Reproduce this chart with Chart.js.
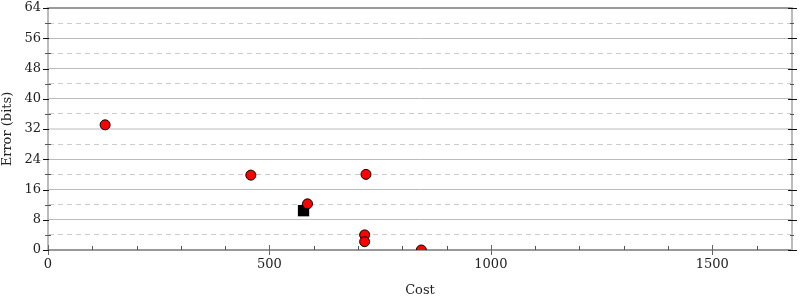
<!DOCTYPE html>
<html>
<head>
<meta charset="utf-8">
<script src="https://cdn.jsdelivr.net/npm/chart.js@4/dist/chart.umd.min.js"></script>
<style>
html,body{margin:0;padding:0;background:#fff;}
#wrap{width:800px;height:300px;position:relative;}
</style>
</head>
<body>
<div id="wrap"><canvas id="c" width="800" height="300"></canvas></div>
<script>
// Data
const circleCost  = [129, 458, 586, 718, 715, 715, 843];
const circleError = [33.1, 19.8, 12.2, 20.0, 4.0, 2.2, 0.0];
const squareCost  = [577];
const squareError = [10.4];
const xTickLabels = [0, 500, 1000, 1500];
const yTickLabels = [0, 8, 16, 24, 32, 40, 48, 56, 64];
const xTitle = 'Cost';
const yTitle = 'Error (bits)';

const FONT = "'DejaVu Serif', serif";
const circles = circleCost.map((c, i) => ({x: c, y: circleError[i]}));
const squares = squareCost.map((c, i) => ({x: c, y: squareError[i]}));

function zeroPad(s) { s.paddingTop = 0; s.paddingBottom = 0; s.paddingLeft = 0; s.paddingRight = 0; }

const tickMarks = {
  id: 'tickMarks',
  afterDraw(chart) {
    const ctx = chart.ctx;
    const a = chart.chartArea;
    const xs = chart.scales.x, ys = chart.scales.y;
    ctx.save();
    ctx.lineWidth = 1;
    xs.ticks.forEach(t => {
      const px = Math.round(xs.getPixelForValue(t.value)) + 0.5;
      const major = xTickLabels.includes(t.value);
      ctx.strokeStyle = major ? '#666' : '#555';
      ctx.beginPath();
      if (major) { ctx.moveTo(px, a.bottom - 5); ctx.lineTo(px, a.bottom + 5); }
      else { ctx.moveTo(px, a.bottom - 4); ctx.lineTo(px, a.bottom); }
      ctx.stroke();
    });
    ys.ticks.forEach(t => {
      const py = Math.round(ys.getPixelForValue(t.value)) + 0.5;
      const major = yTickLabels.includes(t.value);
      ctx.strokeStyle = major ? '#111' : '#555';
      ctx.beginPath();
      if (major) {
        ctx.moveTo(a.left - 5, py); ctx.lineTo(a.left + 1, py);
        ctx.moveTo(a.right - 4, py); ctx.lineTo(a.right + 5, py);
      } else {
        ctx.moveTo(a.left - 3, py); ctx.lineTo(a.left + 3, py);
        ctx.moveTo(a.right - 2, py); ctx.lineTo(a.right + 2, py);
      }
      ctx.stroke();
    });
    ctx.restore();
  }
};

new Chart(document.getElementById('c'), {
  type: 'scatter',
  data: {
    datasets: [
      {
        data: circles,
        pointStyle: 'circle',
        pointRadius: 5,
        pointHoverRadius: 5,
        backgroundColor: '#ff0000',
        borderColor: '#000',
        borderWidth: 1
      },
      {
        data: squares,
        pointStyle: 'rect',
        pointRadius: 8,
        pointHoverRadius: 8,
        backgroundColor: '#000',
        borderColor: '#000',
        borderWidth: 0
      }
    ]
  },
  options: {
    responsive: false,
    animation: false,
    events: [],
    layout: {padding: {top: 8, left: 0, right: 0, bottom: 0}},
    plugins: {legend: {display: false}, tooltip: {enabled: false}},
    scales: {
      x: {
        type: 'linear',
        min: 0,
        max: 1680,
        afterFit(s) { s.height = 50; zeroPad(s); },
        ticks: {
          stepSize: 100,
          includeBounds: false,
          autoSkip: false,
          maxRotation: 0,
          padding: 7,
          color: '#222',
          font: {family: FONT, size: 13},
          callback: v => xTickLabels.includes(v) ? String(v) : ''
        },
        grid: {drawOnChartArea: false, drawTicks: false},
        border: {display: true, color: '#999', width: 2},
        title: {display: true, text: xTitle, color: '#222', font: {family: FONT, size: 13}, padding: {top: 4, bottom: 2}}
      },
      y: {
        type: 'linear',
        position: 'left',
        min: 0,
        max: 64,
        afterFit(s) { s.width = 48; zeroPad(s); },
        ticks: {
          stepSize: 4,
          autoSkip: false,
          padding: 7,
          color: '#222',
          font: {family: FONT, size: 13},
          callback: v => yTickLabels.includes(v) ? String(v) : ''
        },
        grid: {
          drawTicks: false,
          color: ctx => {
            const v = ctx.tick.value;
            if (v === 0) return 'rgba(0,0,0,0)';
            if (v === 64) return '#999';
            if (v === 32) return '#ddd';
            return yTickLabels.includes(v) ? '#bbb' : '#ccc';
          },
          lineWidth: ctx => {
            const v = ctx.tick.value;
            return (v === 64 || v === 32) ? 2 : 1;
          }
        },
        border: {
          display: true,
          color: '#bbb',
          width: 2,
          dash: ctx => (ctx.tick && !yTickLabels.includes(ctx.tick.value)) ? [5, 4] : []
        },
        title: {display: true, text: yTitle, color: '#222', font: {family: FONT, size: 13}, padding: {top: 0, bottom: 4}}
      },
      y2: {
        type: 'linear',
        position: 'right',
        min: 0,
        max: 64,
        afterFit(s) { s.width = 7; zeroPad(s); },
        ticks: {display: false, stepSize: 8},
        grid: {drawOnChartArea: false, drawTicks: false},
        border: {display: true, color: '#bbb', width: 2}
      }
    }
  },
  plugins: [tickMarks]
});
</script>
</body>
</html>
